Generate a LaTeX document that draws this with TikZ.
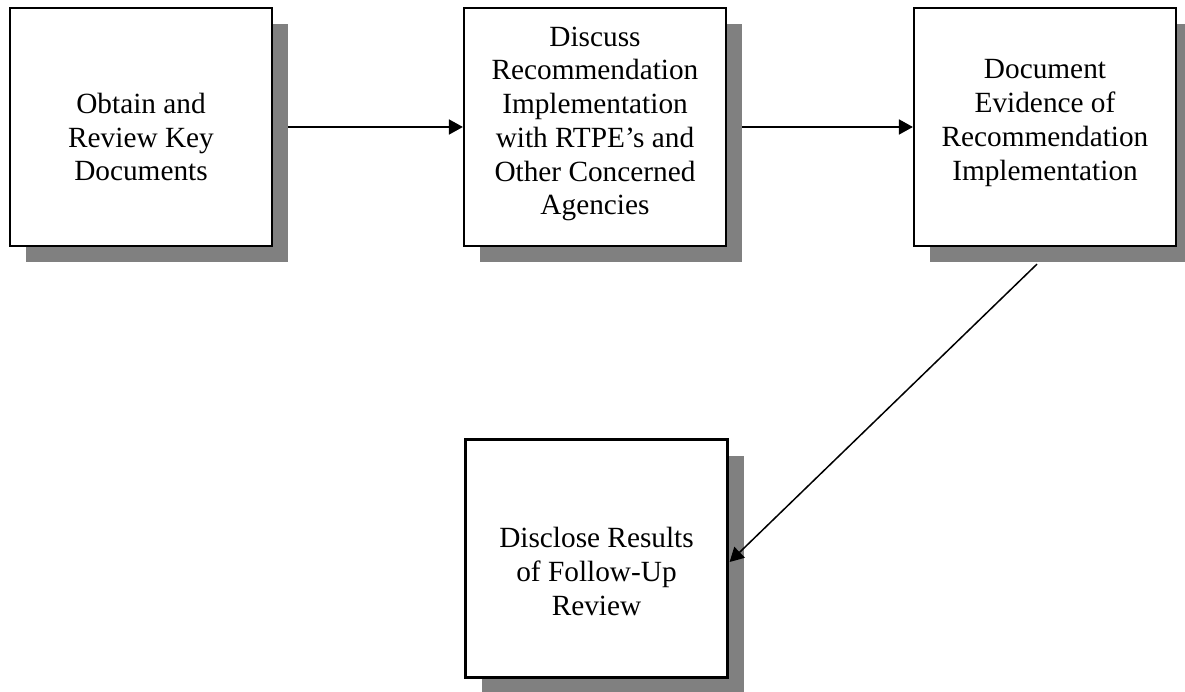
\documentclass[tikz,border=0pt]{standalone}
\usepackage{fontspec}
\setmainfont{Liberation Serif}
\usetikzlibrary{arrows.meta,shadows,backgrounds}
\definecolor{shadowgray}{RGB}{128,128,128}
\tikzset{
  stepbox/.style={draw=black, line width=2.2pt, fill=white, minimum width=262pt, minimum height=238pt, inner sep=0pt,
    drop shadow={shadow xshift=16pt, shadow yshift=-16pt, fill=shadowgray, opacity=1}},
  steptext/.style={align=center, inner sep=0pt, font=\fontsize{29.3}{33.7}\selectfont},
  flow/.style={line width=1.8pt, -{Triangle[length=14pt,width=15pt]}},
  diag/.style={line width=1.5pt, -{Triangle[length=14pt,width=15pt]}}
}
\begin{document}
\begin{tikzpicture}[x=1pt,y=-1pt]
\useasboundingbox (0,0) rectangle (1185,692);
\node[stepbox] (b1) at (141,127) {};
\node[stepbox] (b2) at (595,127) {};
\node[stepbox] (b3) at (1045,127) {};
\node[stepbox] (b4) at (596.5,558.5) {};
\node[steptext] (t1) at ([yshift=-10pt]b1.center) {Obtain and\\Review Key\\Documents};
\node[steptext] (t2) at ([yshift=3pt]b2.center) {Discuss\\Recommendation\\Implementation\\with RTPE’s and\\Other Concerned\\Agencies};
\node[steptext] (t3) at ([yshift=4pt]b3.center) {Document\\Evidence of\\Recommendation\\Implementation};
\node[steptext] (t4) at ([yshift=-13pt]b4.center) {Disclose Results\\of Follow-Up\\Review};
\coordinate (s3) at ([xshift=-8pt,yshift=-17pt]b3.south);
\coordinate (e4) at ([xshift=1pt,yshift=-3.5pt]b4.east);
\begin{scope}[on background layer]
\draw[flow] (b1.east) -- (b2.west);
\draw[flow] (b2.east) -- (b3.west);
\end{scope}
\draw[diag] (s3) -- (e4);
\end{tikzpicture}
\end{document}
